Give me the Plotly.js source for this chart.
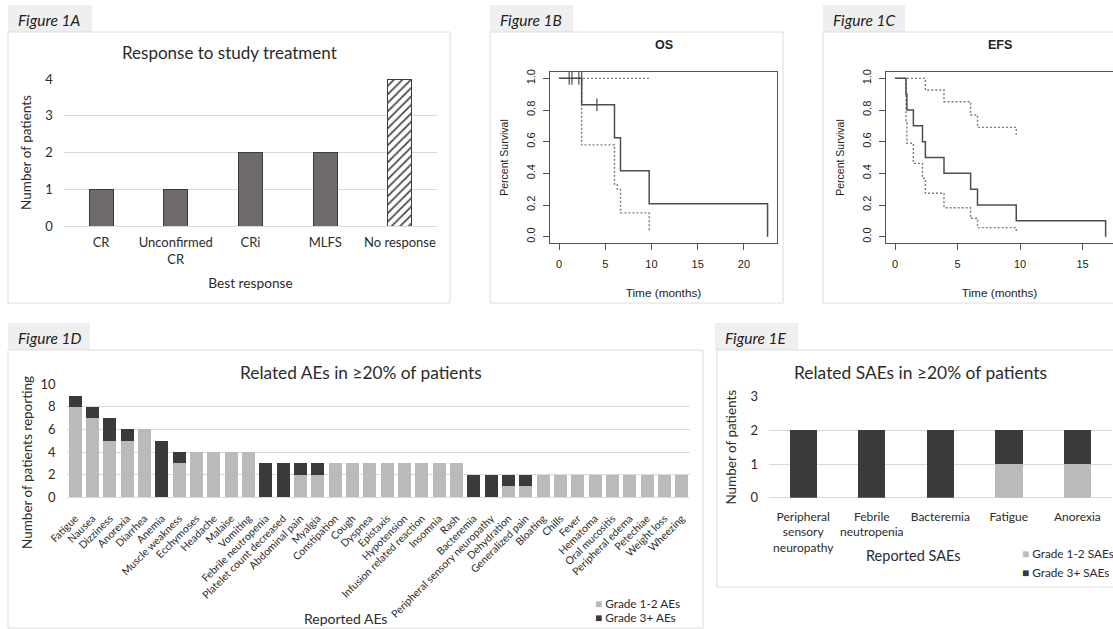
<!DOCTYPE html>
<html><head><meta charset="utf-8">
<script src="https://cdn.plot.ly/plotly-3.0.1.min.js"></script>
<style>html,body{margin:0;padding:0;background:#fff;overflow:hidden}#chart{width:1113px;height:629px}</style>
</head><body><div id="chart"></div>
<script>
// ---------- Figure 1A ----------
const responseCategories = ['CR', 'Unconfirmed<br>CR', 'CRi', 'MLFS', 'No response'];
const responseCounts = [1, 1, 2, 2, 4];

// ---------- Figure 1B (OS, Kaplan-Meier) ----------
const osTime = [0, 2.45, 6.0, 6.65, 9.75, 22.55];
const osSurv = [1, 0.833, 0.625, 0.417, 0.208, 0];
const osUpperTime = [0, 9.8];
const osUpperSurv = [1, 1];
const osLowerTime = [0, 2.45, 6.0, 6.3, 6.65, 9.75];
const osLowerSurv = [1, 0.58, 0.33, 0.30, 0.15, 0.04];
const osCensorTime = [1.1, 1.4, 2.15, 2.45, 4.1];
const osCensorSurv = [1, 1, 1, 1, 0.833];

// ---------- Figure 1C (EFS, Kaplan-Meier) ----------
const efsTime = [0, 0.88, 0.95, 1.47, 2.2, 2.43, 3.92, 6.05, 6.6, 9.7, 16.85];
const efsSurv = [1, 0.9, 0.8, 0.7, 0.6, 0.5, 0.4, 0.3, 0.2, 0.1, 0];
const efsUpperTime = [0, 2.43, 3.92, 6.05, 6.6, 9.7];
const efsUpperSurv = [1, 0.926, 0.852, 0.768, 0.69, 0.645];
const efsLowerTime = [0, 0.88, 0.95, 1.47, 2.2, 2.43, 3.92, 6.05, 6.6, 9.7];
const efsLowerSurv = [1, 0.72, 0.59, 0.463, 0.369, 0.274, 0.183, 0.116, 0.057, 0.03];

// ---------- Figure 1D (related AEs) ----------
const aeCategories = ['Fatigue', 'Nausea', 'Dizziness', 'Anorexia', 'Diarrhea', 'Anemia', 'Muscle weakness',
  'Ecchymoses', 'Headache', 'Malaise', 'Vomiting', 'Febrile neutropenia', 'Platelet count decreased',
  'Abdominal pain', 'Myalgia', 'Constipation', 'Cough', 'Dyspnea', 'Epistaxis', 'Hypotension',
  'Infusion related reaction', 'Insomnia', 'Rash', 'Bacteremia', 'Peripheral sensory neuropathy',
  'Dehydration', 'Generalized pain', 'Bloating', 'Chills', 'Fever', 'Hematoma', 'Oral mucositis',
  'Peripheral edema', 'Petechiae', 'Weight loss', 'Wheezing'];
const aeGrade12 = [8, 7, 5, 5, 6, 0, 3, 4, 4, 4, 4, 0, 0, 2, 2, 3, 3, 3, 3, 3, 3, 3, 3, 0, 0, 1, 1, 2, 2, 2, 2, 2, 2, 2, 2, 2];
const aeGrade3 = [1, 1, 2, 1, 0, 5, 1, 0, 0, 0, 0, 3, 3, 1, 1, 0, 0, 0, 0, 0, 0, 0, 0, 2, 2, 1, 1, 0, 0, 0, 0, 0, 0, 0, 0, 0];
const aeLegend = ['Grade 1-2 AEs', 'Grade 3+ AEs'];

// ---------- Figure 1E (related SAEs) ----------
const saeCategories = ['Peripheral<br>sensory<br>neuropathy', 'Febrile<br>neutropenia', 'Bacteremia', 'Fatigue', 'Anorexia'];
const saeGrade12 = [0, 0, 0, 1, 1];
const saeGrade3 = [2, 2, 2, 1, 1];
const saeLegend = ['Grade 1-2 SAEs', 'Grade 3+ SAEs'];

// ---------- helpers ----------
const W = 1113, H = 629;
const px = x => x / W;
const py = y => 1 - y / H;
const xlFont = 'Lato, "Open Sans", sans-serif';
const rFont = '"Liberation Sans", Arial, sans-serif';
const xlText = '#2b2b2b';
const rText = '#222222';
const lightGray = '#bababa';
const darkGray = '#3a3a3a';
const kmSolid = '#4d4d4d';
const kmDash = '#7a7a7a';

const traces = [];

// A: solid bars for responses, hatched bar for "No response"
const solidIdx = responseCategories.map((c, i) => i).filter(i => responseCategories[i] !== 'No response');
const hatchIdx = responseCategories.map((c, i) => i).filter(i => responseCategories[i] === 'No response');
traces.push({
  type: 'bar', x: solidIdx.map(i => responseCategories[i]), y: solidIdx.map(i => responseCounts[i]),
  xaxis: 'x', yaxis: 'y', width: 0.32, showlegend: false, hoverinfo: 'skip',
  marker: {color: '#6e6a6a', line: {color: '#3c3c3c', width: 1}}
});
traces.push({
  type: 'bar', x: hatchIdx.map(i => responseCategories[i]), y: hatchIdx.map(i => responseCounts[i]),
  xaxis: 'x', yaxis: 'y', width: 0.32, showlegend: false, hoverinfo: 'skip',
  marker: {color: '#ffffff', line: {color: '#3c3c3c', width: 1},
    pattern: {shape: '/', fgcolor: '#4a4a4a', bgcolor: '#ffffff', size: 6, solidity: 0.3, fgopacity: 1}}
});

function kmTraces(xa, ya, t, s, ut, us, lt, ls) {
  const dash = {shape: 'hv', color: kmDash, width: 1.4, dash: '2px,2px'};
  traces.push({type: 'scatter', mode: 'lines', x: ut, y: us, xaxis: xa, yaxis: ya, line: dash, showlegend: false, hoverinfo: 'skip'});
  traces.push({type: 'scatter', mode: 'lines', x: lt, y: ls, xaxis: xa, yaxis: ya, line: dash, showlegend: false, hoverinfo: 'skip'});
  traces.push({type: 'scatter', mode: 'lines', x: t, y: s, xaxis: xa, yaxis: ya, line: {shape: 'hv', color: kmSolid, width: 1.5}, showlegend: false, hoverinfo: 'skip'});
}
kmTraces('x2', 'y2', osTime, osSurv, osUpperTime, osUpperSurv, osLowerTime, osLowerSurv);
traces.push({type: 'scatter', mode: 'markers', x: osCensorTime, y: osCensorSurv, xaxis: 'x2', yaxis: 'y2',
  marker: {symbol: 'line-ns', size: 9, line: {width: 1.2, color: kmSolid}}, showlegend: false, hoverinfo: 'skip'});
kmTraces('x3', 'y3', efsTime, efsSurv, efsUpperTime, efsUpperSurv, efsLowerTime, efsLowerSurv);

// D
traces.push({type: 'bar', name: aeLegend[0], x: aeCategories, y: aeGrade12, xaxis: 'x4', yaxis: 'y4', width: 0.75,
  marker: {color: lightGray}, showlegend: false, hoverinfo: 'skip'});
traces.push({type: 'bar', name: aeLegend[1], x: aeCategories, y: aeGrade3, xaxis: 'x4', yaxis: 'y4', width: 0.75,
  marker: {color: darkGray}, showlegend: false, hoverinfo: 'skip'});
// E
traces.push({type: 'bar', name: saeLegend[0], x: saeCategories, y: saeGrade12, xaxis: 'x5', yaxis: 'y5', width: 0.4,
  marker: {color: lightGray}, showlegend: false, hoverinfo: 'skip'});
traces.push({type: 'bar', name: saeLegend[1], x: saeCategories, y: saeGrade3, xaxis: 'x5', yaxis: 'y5', width: 0.4,
  marker: {color: darkGray}, showlegend: false, hoverinfo: 'skip'});

// ---------- axes ----------
const xlX = (domain, anchor, range, extra) => Object.assign({
  domain: domain, anchor: anchor, type: 'category', range: range, showgrid: false, showline: false, zeroline: false,
  ticks: '', automargin: false, fixedrange: true, tickfont: {family: xlFont, size: 13, color: xlText}
}, extra);
const xlY = (domain, anchor, range, dtick, extra) => Object.assign({
  domain: domain, anchor: anchor, range: range, dtick: dtick, showgrid: true, gridcolor: '#d9d9d9', gridwidth: 1,
  zeroline: true, zerolinecolor: '#d9d9d9', zerolinewidth: 1, showline: false, ticks: '', automargin: false, fixedrange: true,
  tickfont: {family: xlFont, size: 13, color: xlText}
}, extra);
const rX = (domain, anchor, range, tickvals, extra) => Object.assign({
  domain: domain, anchor: anchor, range: range, tickvals: tickvals, showgrid: false, zeroline: false,
  showline: true, mirror: true, linecolor: '#555555', linewidth: 1, ticks: 'outside', ticklen: 6, tickcolor: '#555555',
  automargin: false, fixedrange: true, tickfont: {family: rFont, size: 11, color: rText}, ticklabelstandoff: 5
}, extra);
const rY = (domain, anchor) => ({
  domain: domain, anchor: anchor, range: [-0.04, 1.04], tickvals: [0, 0.2, 0.4, 0.6, 0.8, 1.0], tickformat: '.1f',
  tickangle: -90, showgrid: false, zeroline: false, showline: true, mirror: true, linecolor: '#555555', linewidth: 1,
  ticks: 'outside', ticklen: 6, tickcolor: '#555555', automargin: false, fixedrange: true,
  tickfont: {family: rFont, size: 11, color: rText}, ticklabelstandoff: 4,
  title: {text: 'Percent Survival', font: {family: rFont, size: 10.5, color: rText}, standoff: 13}
});

const layout = {
  width: W, height: H, margin: {l: 0, r: 0, t: 0, b: 0, pad: 0},
  paper_bgcolor: '#ffffff', plot_bgcolor: 'rgba(0,0,0,0)', barmode: 'stack', showlegend: false,
  font: {family: xlFont, color: xlText},
  xaxis: xlX([px(63.7), px(437.3)], 'y', [-0.5, 4.5], {ticklabelstandoff: 7,
    title: {text: 'Best response', font: {family: xlFont, size: 13.7, color: xlText}, standoff: 12}}),
  yaxis: xlY([py(226), py(79)], 'x', [0, 4], 1, {ticklabelstandoff: 10,
    title: {text: 'Number of patients', font: {family: xlFont, size: 13.5, color: xlText}, standoff: 10}}),
  xaxis2: rX([px(550), px(777)], 'y2', [-0.973, 23.57], [0, 5, 10, 15, 20],
    {title: {text: 'Time (months)', font: {family: rFont, size: 11.8, color: rText}, standoff: 19}}),
  yaxis2: rY([py(243), py(72)], 'x2'),
  xaxis3: rX([px(886), 1], 'y3', [-0.72, 17.44], [0, 5, 10, 15],
    {title: {text: 'Time (months)', font: {family: rFont, size: 11.8, color: rText}, standoff: 19}}),
  yaxis3: rY([py(243), py(72)], 'x3'),
  xaxis4: xlX([px(66.6), px(690.4)], 'y4', [-0.5, 35.5], {tickangle: -45, ticklabelstandoff: 12,
    tickfont: {family: xlFont, size: 10.5, color: xlText}}),
  yaxis4: xlY([py(497.3), py(384.3)], 'x4', [0, 10], 2, {ticklabelstandoff: 10}),
  xaxis5: xlX([px(769), px(1111.6)], 'y5', [-0.5, 4.5], {ticklabelstandoff: 10,
    tickfont: {family: xlFont, size: 12, color: xlText}}),
  yaxis5: xlY([py(497.7), py(396.7)], 'x5', [0, 3], 1, {ticklabelstandoff: 10,
    title: {text: 'Number of patients', font: {family: xlFont, size: 13.5, color: xlText}, standoff: 10}}),
  shapes: [],
  annotations: []
};

// panel frames and label tabs
const panels = [
  {label: 'Figure 1A', tab: [8, 5, 92, 32], box: [8, 32, 450, 303]},
  {label: 'Figure 1B', tab: [490, 5, 573, 32], box: [490, 32, 783, 303]},
  {label: 'Figure 1C', tab: [823, 5, 905, 32], box: [823, 32, 1130, 303]},
  {label: 'Figure 1D', tab: [8, 323, 90, 350], box: [8, 350, 703, 628]},
  {label: 'Figure 1E', tab: [715, 323, 798, 350], box: [717, 350, 1130, 587]}
];
panels.forEach(p => {
  layout.shapes.push({type: 'rect', xref: 'paper', yref: 'paper', x0: px(p.tab[0]), x1: px(p.tab[2]), y0: py(p.tab[3]), y1: py(p.tab[1]),
    fillcolor: '#efefef', line: {width: 0}, layer: 'below'});
  layout.shapes.push({type: 'rect', xref: 'paper', yref: 'paper', x0: px(p.box[0]), x1: px(p.box[2]), y0: py(p.box[3]), y1: py(p.box[1]),
    fillcolor: 'rgba(0,0,0,0)', line: {width: 1, color: '#dcdcdc'}, layer: 'below'});
  layout.annotations.push({xref: 'paper', yref: 'paper', x: px(p.tab[0] + 8), y: py((p.tab[1] + p.tab[3]) / 2 + 1),
    xanchor: 'left', yanchor: 'middle', showarrow: false, text: '<i>' + p.label + '</i>',
    font: {family: xlFont, size: 15.5, color: '#222222'}});
});

const ann = (x, y, text, font, extra) => layout.annotations.push(Object.assign({xref: 'paper', yref: 'paper',
  x: px(x), y: py(y), xanchor: 'center', yanchor: 'middle', showarrow: false, text: text, font: font}, extra || {}));
ann(229, 53, 'Response to study treatment', {family: xlFont, size: 17, color: xlText});
ann(664, 45, '<b>OS</b>', {family: rFont, size: 12.5, color: rText});
ann(1000, 45, '<b>EFS</b>', {family: rFont, size: 12.5, color: rText});
ann(361, 372, 'Related AEs in ≥20% of patients', {family: xlFont, size: 17.3, color: xlText});
ann(920, 372, 'Related SAEs in ≥20% of patients', {family: xlFont, size: 17.4, color: xlText});
ann(27, 463, 'Number of patients reporting', {family: xlFont, size: 13.5, color: xlText}, {textangle: -90});
ann(345, 618, 'Reported AEs', {family: xlFont, size: 14, color: xlText});
ann(913, 555, 'Reported SAEs', {family: xlFont, size: 14.5, color: xlText});

// legends (key swatch + label)
const legendItem = (x, y, color, label) => ann(x, y,
  '<span style="color:' + color + '">■</span> ' + label, {family: xlFont, size: 11.8, color: xlText}, {xanchor: 'left'});
legendItem(593, 603, lightGray, aeLegend[0]);
legendItem(593, 617, darkGray, aeLegend[1]);
legendItem(1020, 553, lightGray, saeLegend[0]);
legendItem(1020, 572, darkGray, saeLegend[1]);

Plotly.newPlot('chart', traces, layout, {staticPlot: true, displayModeBar: false});
</script>
</body></html>
